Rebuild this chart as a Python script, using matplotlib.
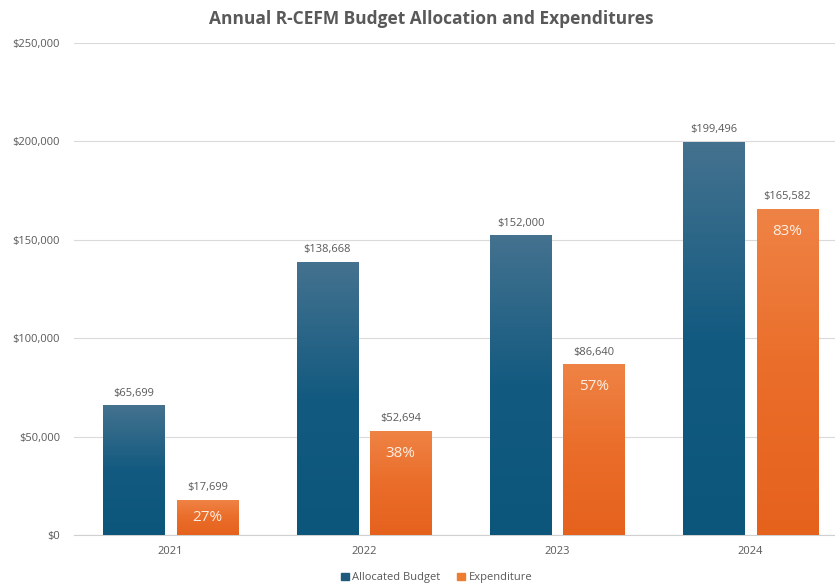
import numpy as np
import matplotlib.pyplot as plt
from matplotlib.colors import LinearSegmentedColormap
from matplotlib.patches import Patch
from matplotlib.ticker import FuncFormatter

years = ["2021", "2022", "2023", "2024"]
allocated = [65699, 138668, 152000, 199496]
expenditure = [17699, 52694, 86640, 165582]
pct_labels = ["27%", "38%", "57%", "83%"]

plt.rcParams["font.family"] = ["Open Sans", "DejaVu Sans"]
text_gray = "#595959"

fig = plt.figure(figsize=(8.35, 5.83), dpi=100)
ax = fig.add_axes([0.0886, 0.0823, 0.926, 0.8439])

x = np.arange(len(years))
w = 0.316
off = 0.19
b1 = ax.bar(x - off, allocated, w, color="#1c5b7e", zorder=2)
b2 = ax.bar(x + off, expenditure, w, color="#ea7030", zorder=2)

# vertical gradient fill on each bar (lighter at the top)
blue_cm = LinearSegmentedColormap.from_list(
    "b", [(0, "#0c567b"), (0.5, "#135a80"), (1, "#44728f")])
orange_cm = LinearSegmentedColormap.from_list(
    "o", [(0, "#e5621d"), (0.5, "#ea6d29"), (1, "#ef8345")])
grad = np.linspace(0, 1, 256).reshape(-1, 1)
for bars, cm in [(b1, blue_cm), (b2, orange_cm)]:
    for r in bars:
        x0, h = r.get_x(), r.get_height()
        ax.imshow(grad, extent=[x0, x0 + r.get_width(), 0, h], origin="lower",
                  aspect="auto", cmap=cm, zorder=3)

ax.set_xlim(-0.5, 3.5)
ax.set_ylim(0, 250000)
ax.set_yticks(np.arange(0, 250001, 50000))
ax.yaxis.set_major_formatter(FuncFormatter(lambda v, p: f"${v:,.0f}"))
ax.set_xticks(x)
ax.set_xticklabels(years)
ax.tick_params(axis="both", length=0, labelsize=8, colors=text_gray)
ax.tick_params(axis="y", pad=10)
ax.tick_params(axis="x", pad=8)
ax.grid(axis="y", color="#dadada", linewidth=0.8, zorder=0)
for s in ["top", "right", "left"]:
    ax.spines[s].set_visible(False)
ax.spines["bottom"].set_color("#d0d0d0")

for bars, vals in [(b1, allocated), (b2, expenditure)]:
    for r, v in zip(bars, vals):
        ax.annotate(f"${v:,}", (r.get_x() + r.get_width() / 2, v),
                    xytext=(0, 5), textcoords="offset points",
                    ha="center", va="bottom", fontsize=8, color=text_gray)

for r, v, t in zip(b2, expenditure, pct_labels):
    hpt = v / 250000 * 492 * 0.72
    ax.annotate(t, (r.get_x() + r.get_width() / 2, v),
                xytext=(0, -min(16, hpt / 2)), textcoords="offset points",
                ha="center", va="center", fontsize=11, color="#fdeee4", zorder=5)

fig.suptitle("Annual R-CEFM Budget Allocation and Expenditures", x=0.517, y=0.982,
             fontsize=12.5, fontweight="bold", color=text_gray)

handles = [Patch(color="#1f5a7c", label="Allocated Budget"),
           Patch(color="#ed7d31", label="Expenditure")]
fig.legend(handles=handles, loc="lower center", bbox_to_anchor=(0.523, -0.018),
           ncol=2, frameon=False, fontsize=8, labelcolor=text_gray,
           handlelength=0.7, handleheight=0.7, handletextpad=0.3, columnspacing=1.5)

fig.savefig("out.png", dpi=100)
